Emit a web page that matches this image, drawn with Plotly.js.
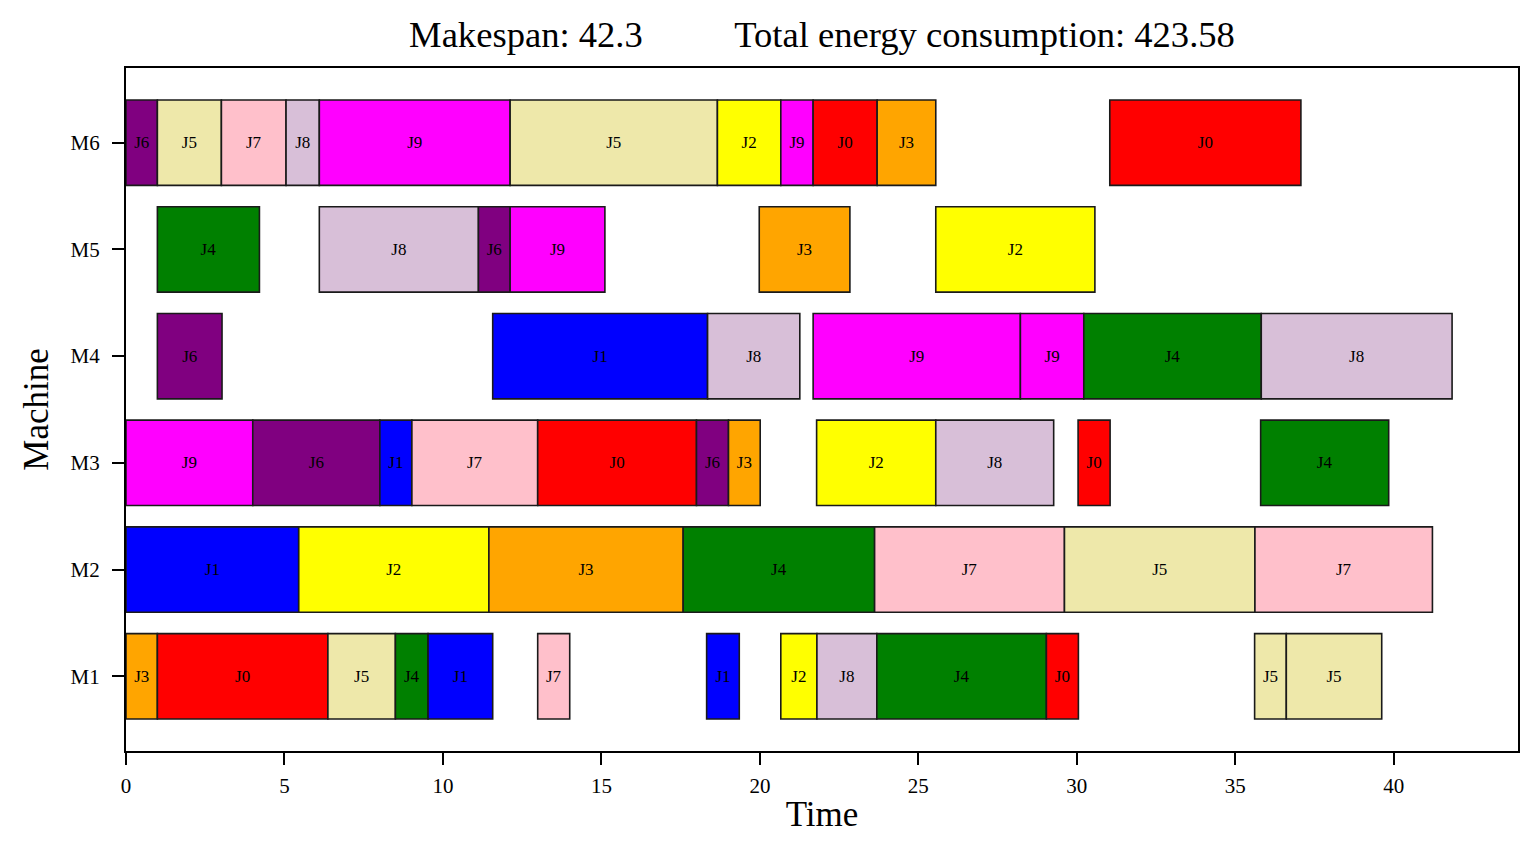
<!DOCTYPE html>
<html>
<head>
<meta charset="utf-8">
<script src="https://cdn.plot.ly/plotly-3.0.1.min.js"></script>
<style>
  html, body { margin: 0; padding: 0; background: #fff; }
  #chart { width: 1535px; height: 844px; }
</style>
</head>
<body>
<div id="chart"></div>
<script>
// ---- Data ----
const machines = ['M1', 'M2', 'M3', 'M4', 'M5', 'M6'];
const jobNames = ['J0', 'J1', 'J2', 'J3', 'J4', 'J5', 'J6', 'J7', 'J8', 'J9'];
const jobColors = ['#FF0000', '#0000FF', '#FFFF00', '#FFA500', '#008000',
                   '#EEE8AA', '#800080', '#FFC0CB', '#D8BFD8', '#FF00FF'];

// operations: machine, job, start, end
const opMachine = [
  'M1','M1','M1','M1','M1','M1','M1','M1','M1','M1','M1','M1','M1',
  'M2','M2','M2','M2','M2','M2','M2',
  'M3','M3','M3','M3','M3','M3','M3','M3','M3','M3','M3',
  'M4','M4','M4','M4','M4','M4','M4',
  'M5','M5','M5','M5','M5','M5',
  'M6','M6','M6','M6','M6','M6','M6','M6','M6','M6','M6'
];
const opJob = [
  'J3','J0','J5','J4','J1','J7','J1','J2','J8','J4','J0','J5','J5',
  'J1','J2','J3','J4','J7','J5','J7',
  'J9','J6','J1','J7','J0','J6','J3','J2','J8','J0','J4',
  'J6','J1','J8','J9','J9','J4','J8',
  'J4','J8','J6','J9','J3','J2',
  'J6','J5','J7','J8','J9','J5','J2','J9','J0','J3','J0'
];
const opStart = [
  0, 0.99, 6.37, 8.50, 9.53, 12.99, 18.32, 20.66, 21.80, 23.69, 29.04, 35.61, 36.61,
  0, 5.45, 11.45, 17.58, 23.62, 29.61, 35.62,
  0, 4.00, 8.01, 9.02, 12.99, 18.00, 19.01, 21.79, 25.55, 30.04, 35.80,
  0.99, 11.57, 18.35, 21.68, 28.22, 30.22, 35.82,
  0.99, 6.10, 11.12, 12.12, 19.98, 25.55,
  0, 0.99, 3.01, 5.05, 6.10, 12.12, 18.66, 20.66, 21.68, 23.70, 31.04
];
const opEnd = [
  0.99, 6.37, 8.50, 9.53, 11.57, 14.00, 19.35, 21.80, 23.69, 29.04, 30.05, 36.61, 39.62,
  5.45, 11.45, 17.58, 23.62, 29.61, 35.62, 41.22,
  4.00, 8.01, 9.02, 12.99, 18.00, 19.01, 20.01, 25.55, 29.27, 31.05, 39.84,
  3.03, 18.35, 21.26, 28.22, 30.22, 35.82, 41.84,
  4.21, 11.12, 12.12, 15.11, 22.84, 30.57,
  0.99, 3.01, 5.05, 6.10, 12.12, 18.66, 20.66, 21.68, 23.70, 25.55, 37.07
];
const xTicks = [0, 5, 10, 15, 20, 25, 30, 35, 40];
const makespan = 42.3;
const totalEnergy = 423.58;

// ---- Build trace ----
const yPos = opMachine.map(m => machines.indexOf(m) + 1);
const durations = opStart.map((s, i) => opEnd[i] - s);
const colors = opJob.map(j => jobColors[jobNames.indexOf(j)]);

const FONT = 'Liberation Serif, Times New Roman, serif';

const trace = {
  type: 'bar',
  orientation: 'h',
  y: yPos,
  x: durations,
  base: opStart,
  width: 0.8,
  marker: { color: colors, line: { color: '#1a1a1a', width: 1.6 } },
  text: opJob,
  textposition: 'inside',
  insidetextanchor: 'middle',
  textangle: 0,
  constraintext: 'none',
  textfont: { family: FONT, size: 17, color: '#000' },
  insidetextfont: { family: FONT, size: 17, color: '#000' },
  hoverinfo: 'skip',
  showlegend: false
};

const axisCommon = {
  showline: true, linewidth: 2, linecolor: '#000', mirror: true,
  ticks: 'outside', ticklen: 12, tickwidth: 2, tickcolor: '#000',
  showgrid: false, zeroline: false,
  tickfont: { family: FONT, size: 21, color: '#000' }
};

const layout = {
  width: 1535, height: 844,
  margin: { l: 126, r: 17, t: 68, b: 93, pad: 0 },
  paper_bgcolor: '#fff', plot_bgcolor: '#fff',
  font: { family: FONT, color: '#000' },
  title: {
    text: 'Makespan: ' + makespan + '\u00a0'.repeat(10) + 'Total energy consumption: ' + totalEnergy,
    font: { family: FONT, size: 36.6, color: '#000' },
    x: 0.5, xref: 'paper', xanchor: 'center',
    y: 1 - 34 / 844, yref: 'container', yanchor: 'middle'
  },
  xaxis: Object.assign({}, axisCommon, {
    range: [0, 43.92],
    tickmode: 'array', tickvals: xTicks, ticktext: xTicks.map(String),
    ticklabelstandoff: 3,
    title: { text: 'Time', font: { family: FONT, size: 35, color: '#000' }, standoff: 4 }
  }),
  yaxis: Object.assign({}, axisCommon, {
    range: [0.3, 6.7],
    tickmode: 'array', tickvals: machines.map((m, i) => i + 1), ticktext: machines,
    ticklabelstandoff: 8,
    title: { text: 'Machine', font: { family: FONT, size: 35, color: '#000' }, standoff: 11 }
  }),
  bargap: 0
};

Plotly.newPlot('chart', [trace], layout, { displayModeBar: false, staticPlot: true });
</script>
</body>
</html>
